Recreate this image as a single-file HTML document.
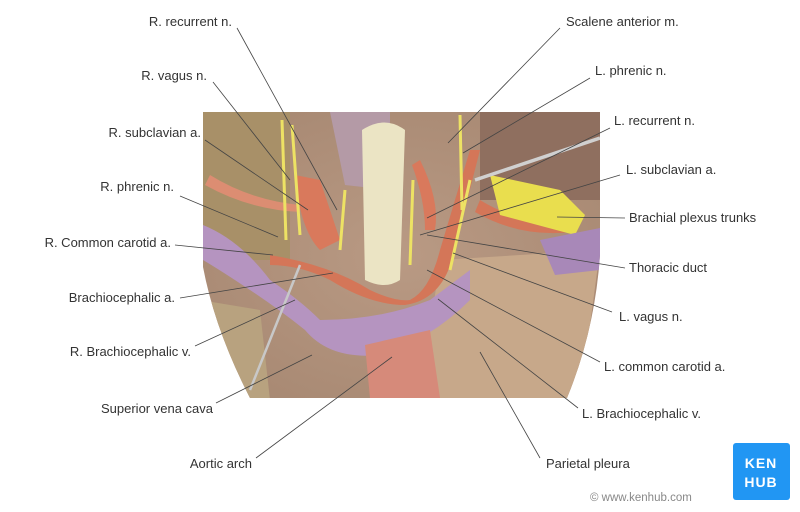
<!DOCTYPE html>
<html><head><style>
html,body{margin:0;padding:0;background:#fff;}
svg{display:block;}
text{font-family:"Liberation Sans",sans-serif;font-size:13px;fill:#333;}
</style></head><body>
<svg width="800" height="512" viewBox="0 0 800 512">
<defs>
<clipPath id="ph"><path d="M203,112 L600,112 L600,255 Q595,330 567,398 L250,398 Q215,330 203,267 Z"/></clipPath>
<radialGradient id="bg" cx="0.5" cy="0.5" r="0.7">
<stop offset="0" stop-color="#b99a84"/><stop offset="1" stop-color="#a58670"/></radialGradient>
</defs>
<g clip-path="url(#ph)">
<rect x="200" y="110" width="405" height="292" fill="url(#bg)"/>
<rect x="200" y="110" width="90" height="150" fill="#a89068"/>
<rect x="480" y="110" width="125" height="90" fill="#8f6f5f"/>
<path d="M440,260 L600,250 L580,400 L420,400 Z" fill="#c7a88a"/>
<path d="M200,300 L260,310 L270,400 L200,400 Z" fill="#b8a27f"/>
<path d="M330,112 L390,112 L390,190 L345,185 Z" fill="#b49aa6"/>
<path d="M362,130 Q385,115 405,130 L400,280 Q385,290 365,280 Z" fill="#ebe4c4"/>
<path d="M295,175 Q300,230 320,250 L340,240 Q330,210 320,180 Z" fill="#d9795c"/>
<path d="M270,255 Q330,265 370,290 Q395,302 410,300 Q430,290 440,250 L470,150 L480,150 L452,260 Q440,300 405,305 Q370,305 330,280 Q300,265 270,265 Z" fill="#d47658"/>
<path d="M210,175 Q250,200 300,205 L300,212 Q250,210 205,185 Z" fill="#dc8d72"/>
<path d="M420,160 Q440,200 435,230 L425,230 Q425,200 412,165 Z" fill="#d9795c"/>
<path d="M480,200 Q520,225 570,222 L572,232 Q520,238 475,212 Z" fill="#d47658"/>
<path d="M490,175 L560,190 L585,215 L575,235 L500,215 Z" fill="#e9de4e"/>
<path d="M203,225 Q240,240 270,280 Q300,300 320,320 Q380,320 430,300 L470,270 L470,300 Q430,340 380,355 Q330,360 305,330 Q280,310 250,290 Q220,270 203,260 Z" fill="#b594c0"/>
<path d="M540,240 L600,228 L600,270 L555,275 Z" fill="#a888b8"/>
<path d="M365,345 L430,330 L440,398 L370,398 Z" fill="#d68a7a"/>
<path d="M282,120 L286,240 M292,125 L300,235 M460,115 L462,210 M413,180 L410,265 M470,180 L450,270 M345,190 L340,250" stroke="#ede264" stroke-width="3" fill="none"/>
<path d="M250,390 L300,265" stroke="#c8c8c8" stroke-width="2.5"/>
<path d="M475,180 L600,138" stroke="#d0d0d0" stroke-width="3.5"/>
</g>
<g stroke="#444" stroke-width="0.8" fill="none">
<line x1="237" y1="28" x2="337" y2="210"/>
<line x1="213" y1="82" x2="290" y2="180"/>
<line x1="205" y1="140" x2="308" y2="210"/>
<line x1="180" y1="196" x2="278" y2="237"/>
<line x1="175" y1="245" x2="273" y2="255"/>
<line x1="180" y1="298" x2="333" y2="273"/>
<line x1="195" y1="346" x2="295" y2="300"/>
<line x1="216" y1="403" x2="312" y2="355"/>
<line x1="256" y1="458" x2="392" y2="357"/>
<line x1="560" y1="28" x2="448" y2="143"/>
<line x1="590" y1="78" x2="463" y2="153"/>
<line x1="610" y1="128" x2="427" y2="218"/>
<line x1="620" y1="175" x2="420" y2="235"/>
<line x1="625" y1="218" x2="557" y2="217"/>
<line x1="625" y1="268" x2="427" y2="235"/>
<line x1="612" y1="312" x2="453" y2="253"/>
<line x1="600" y1="362" x2="427" y2="270"/>
<line x1="578" y1="408" x2="438" y2="299"/>
<line x1="540" y1="458" x2="480" y2="352"/>
</g>
<g text-anchor="end">
<text x="232" y="26">R. recurrent n.</text>
<text x="207" y="80">R. vagus n.</text>
<text x="201" y="137">R. subclavian a.</text>
<text x="174" y="191">R. phrenic n.</text>
<text x="171" y="247">R. Common carotid a.</text>
<text x="175" y="302">Brachiocephalic a.</text>
<text x="191" y="356">R. Brachiocephalic v.</text>
<text x="213" y="413">Superior vena cava</text>
<text x="252" y="468">Aortic arch</text>
</g>
<text x="566" y="26">Scalene anterior m.</text>
<text x="595" y="75">L. phrenic n.</text>
<text x="614" y="125">L. recurrent n.</text>
<text x="626" y="174">L. subclavian a.</text>
<text x="629" y="222">Brachial plexus trunks</text>
<text x="629" y="272">Thoracic duct</text>
<text x="619" y="321">L. vagus n.</text>
<text x="604" y="371">L. common carotid a.</text>
<text x="582" y="418">L. Brachiocephalic v.</text>
<text x="546" y="468">Parietal pleura</text>
<text x="590" y="501" style="font-size:11.5px;fill:#888">© www.kenhub.com</text>
<rect x="733" y="443" width="57" height="57" rx="3" fill="#2196f3"/>
<text x="761" y="468" text-anchor="middle" style="fill:#fff;font-size:14px;font-weight:bold;letter-spacing:1px">KEN</text>
<text x="761" y="487" text-anchor="middle" style="fill:#fff;font-size:14px;font-weight:bold;letter-spacing:1px">HUB</text>
</svg>
</body></html>
